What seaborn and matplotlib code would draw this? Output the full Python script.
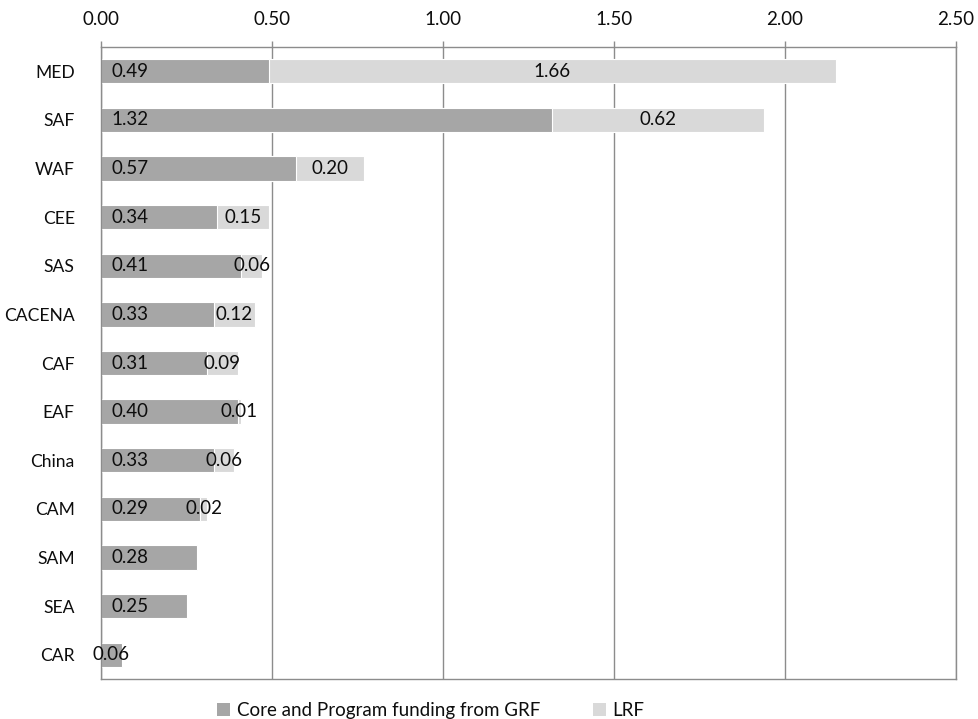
import matplotlib
matplotlib.use("Agg")
import matplotlib.pyplot as plt
from matplotlib.patches import Patch
import seaborn as sns
import pandas as pd

# Regional funding (core/program from GRF and LRF), in millions
regions = ["MED", "SAF", "WAF", "CEE", "SAS", "CACENA", "CAF", "EAF",
           "China", "CAM", "SAM", "SEA", "CAR"]
core_grf = [0.49, 1.32, 0.57, 0.34, 0.41, 0.33, 0.31, 0.40, 0.33, 0.29, 0.28, 0.25, 0.06]
lrf = [1.66, 0.62, 0.20, 0.15, 0.06, 0.12, 0.09, 0.01, 0.06, 0.02, 0.0, 0.0, 0.0]
x_ticks = [0.0, 0.5, 1.0, 1.5, 2.0, 2.5]

core_label = "Core and Program funding from GRF"
lrf_label = "LRF"
core_color = "#a6a6a6"
lrf_color = "#d9d9d9"
grid_color = "#8c8c8c"
text_color = "#0d0d0d"
fsize = 13.5
ysize = 12.6

df = pd.DataFrame({"region": regions, "core": core_grf, "lrf": lrf})
df["total"] = df["core"] + df["lrf"]

sns.set_theme(style="white")
plt.rcParams["font.family"] = ["Lato", "DejaVu Sans"]

fig = plt.figure(figsize=(9.79, 7.19), dpi=100)
ax = fig.add_axes([0.1032, 0.0556, 0.8733, 0.8790])

# Full stack (core + LRF) first, then the core segment over it
sns.barplot(data=df, x="total", y="region", order=regions, color=lrf_color,
            width=0.5, edgecolor="white", linewidth=0.8, orient="h",
            saturation=1, ax=ax)
sns.barplot(data=df, x="core", y="region", order=regions, color=core_color,
            width=0.5, edgecolor="white", linewidth=0.8, orient="h",
            saturation=1, ax=ax)

ax.set_xlim(x_ticks[0], x_ticks[-1])
ax.set_ylim(len(regions) - 0.5, -0.5)
ax.set_xticks(x_ticks)
ax.set_xticklabels([f"{t:.2f}" for t in x_ticks])
ax.xaxis.tick_top()
ax.set_xlabel("")
ax.set_ylabel("")

ax.set_axisbelow(True)
ax.grid(axis="x", color=grid_color, linewidth=1.0)
ax.grid(axis="y", visible=False)
for sp in ax.spines.values():
    sp.set_visible(True)
    sp.set_color(grid_color)
    sp.set_linewidth(1.0)

ax.tick_params(axis="x", which="both", top=True, bottom=False, length=4.5,
               width=1.0, color=grid_color, pad=9, labelsize=fsize,
               labelcolor=text_color)
ax.tick_params(axis="y", left=False, pad=13, labelsize=ysize,
               labelcolor=text_color)

# Value labels: core at the bar base, LRF centred on its segment
fig.canvas.draw()
renderer = fig.canvas.get_renderer()
px_per_unit = ax.transData.transform((1, 0))[0] - ax.transData.transform((0, 0))[0]
for i, row in df.iterrows():
    t = ax.text(0, i, f"{row['core']:.2f}", va="center", ha="left",
                fontsize=fsize, color=text_color)
    w = t.get_window_extent(renderer).width
    bar_px = row["core"] * px_per_unit
    if bar_px >= w + 14:
        t.set_position((10 / px_per_unit, i))
    else:
        t.set_position((row["core"] / 2, i))
        t.set_ha("center")
    if row["lrf"] > 0:
        ax.text(row["core"] + row["lrf"] / 2, i, f"{row['lrf']:.2f}",
                va="center", ha="center", fontsize=fsize, color=text_color)

handles = [Patch(facecolor=core_color, edgecolor="none", label=core_label),
           Patch(facecolor=lrf_color, edgecolor="none", label=lrf_label)]
fig.legend(handles=handles, loc="center", bbox_to_anchor=(0.44, 0.012),
           ncol=2, frameon=False, fontsize=fsize, handlelength=0.7,
           handleheight=0.7, handletextpad=0.35, columnspacing=2.8,
           labelcolor=text_color)

fig.savefig("out.png", dpi=100)
